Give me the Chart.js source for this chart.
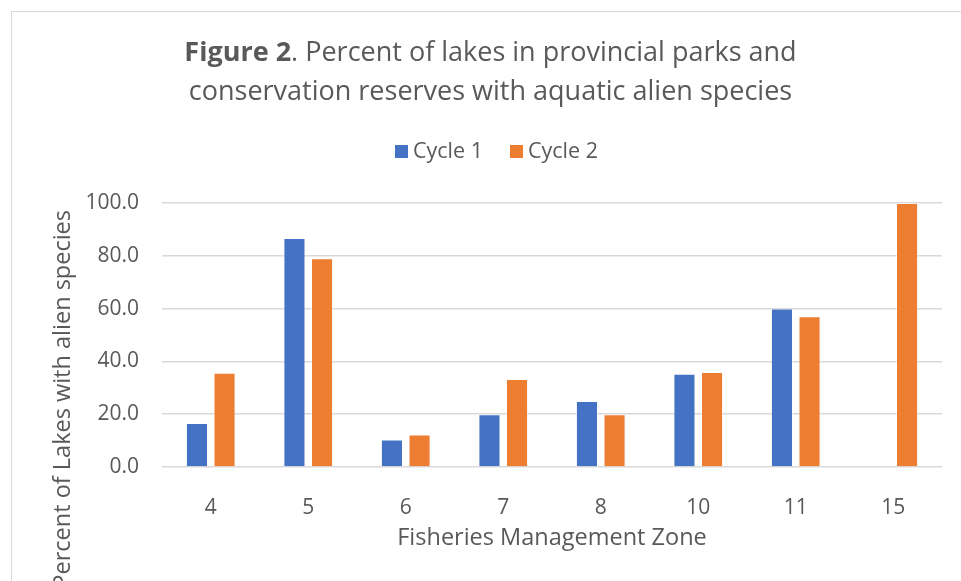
<!DOCTYPE html>
<html>
<head>
<meta charset="utf-8">
<script src="https://cdn.jsdelivr.net/npm/chart.js@4.4.1/dist/chart.umd.min.js"></script>
<style>
    body { margin: 0; background: #ffffff; }
    canvas { display: block; }
</style>
</head>
<body>
<canvas id="lakesChart" width="961" height="581"></canvas>
<script>
const zones = ['4', '5', '6', '7', '8', '10', '11', '15'];
const cycle1 = [16.7, 86.7, 10.4, 20.0, 25.0, 35.3, 60.0, null];
const cycle2 = [35.7, 79.1, 12.3, 33.3, 20.0, 36.0, 57.1, 100.0];
const seriesNames = ['Cycle 1', 'Cycle 2'];
const yTicks = [0, 20, 40, 60, 80, 100];

const titleBold = 'Figure 2';
const titleRest = '. Percent of lakes in provincial parks and';
const titleLine2 = 'conservation reserves with aquatic alien species';
const yTitle = 'Percent of Lakes with alien species';
const xTitle = 'Fisheries Management Zone';

const textGray = '#595959';
const fontName = '"Open Sans", sans-serif';

// Title, legend, frame and rotated y title drawn by hand (mixed bold title, Excel-like placement)
const decorations = {
    id: 'decorations',
    beforeDraw(chart) {
        const c = chart.ctx;
        c.save();
        c.strokeStyle = '#d9d9d9';
        c.lineWidth = 1;
        c.strokeRect(11.5, 11.5, 1000, 1000);
        c.restore();
    },
    afterDraw(chart) {
        const c = chart.ctx;
        c.save();
        c.fillStyle = textGray;
        c.textBaseline = 'alphabetic';

        // title line 1 with bold prefix
        const centerX = 490.5;
        c.font = 'bold 27px ' + fontName;
        const wBold = c.measureText(titleBold).width;
        c.font = '27px ' + fontName;
        const wRest = c.measureText(titleRest).width;
        let x = centerX - (wBold + wRest) / 2;
        c.textAlign = 'left';
        c.font = 'bold 27px ' + fontName;
        c.fillText(titleBold, x, 61);
        c.font = '27px ' + fontName;
        c.fillText(titleRest, x + wBold, 61);
        c.textAlign = 'center';
        c.fillText(titleLine2, centerX, 100);

        // legend
        c.font = '21.5px ' + fontName;
        c.textAlign = 'left';
        c.textBaseline = 'middle';
        let lx = 395;
        chart.data.datasets.forEach((ds) => {
            c.fillStyle = ds.backgroundColor;
            c.fillRect(lx, 145, 13, 13);
            c.fillStyle = textGray;
            c.fillText(ds.label, lx + 18, 151.5);
            lx += 18 + c.measureText(ds.label).width + 27;
        });

        // y axis title, top end near the plot top
        c.font = '23.5px ' + fontName;
        c.translate(63, 210);
        c.rotate(-Math.PI / 2);
        c.textAlign = 'right';
        c.textBaseline = 'middle';
        c.fillText(yTitle, 0, 0);
        c.restore();
    }
};

const ctx = document.getElementById('lakesChart').getContext('2d');
const lakesChart = new Chart(ctx, {
    type: 'bar',
    data: {
        labels: zones,
        datasets: [{
            label: seriesNames[0],
            data: cycle1,
            backgroundColor: '#4472C4',
            borderColor: 'rgba(255, 255, 255, 0.35)',
            borderWidth: 1
        },
        {
            label: seriesNames[1],
            data: cycle2,
            backgroundColor: '#ED7D31',
            borderColor: 'rgba(255, 255, 255, 0.35)',
            borderWidth: 1
        }]
    },
    options: {
        responsive: false,
        animation: false,
        categoryPercentage: 0.566,
        barPercentage: 0.8,
        layout: {
            padding: { top: 203, left: 0, right: 19, bottom: 0 }
        },
        plugins: {
            legend: { display: false },
            title: { display: false },
            tooltip: { enabled: false }
        },
        scales: {
            x: {
                grid: { display: false },
                border: { display: false },
                ticks: {
                    color: textGray,
                    padding: 20,
                    font: { family: fontName, size: 21 }
                },
                title: {
                    display: true,
                    text: xTitle,
                    color: textGray,
                    padding: { top: 29, bottom: 29 },
                    font: { family: fontName, size: 23.5 }
                },
                afterFit(scale) { scale.height = 114; }
            },
            y: {
                min: 0,
                max: 100,
                border: { display: false },
                grid: {
                    color: '#d9d9d9',
                    lineWidth: 1.5,
                    drawTicks: false
                },
                afterBuildTicks(scale) {
                    scale.ticks = yTicks.map(v => ({ value: v }));
                },
                ticks: {
                    color: textGray,
                    padding: 23,
                    font: { family: fontName, size: 21 },
                    callback: (v) => Number(v).toFixed(1)
                },
                afterFit(scale) { scale.width = 162; }
            }
        }
    },
    plugins: [decorations]
});
</script>
</body>
</html>
